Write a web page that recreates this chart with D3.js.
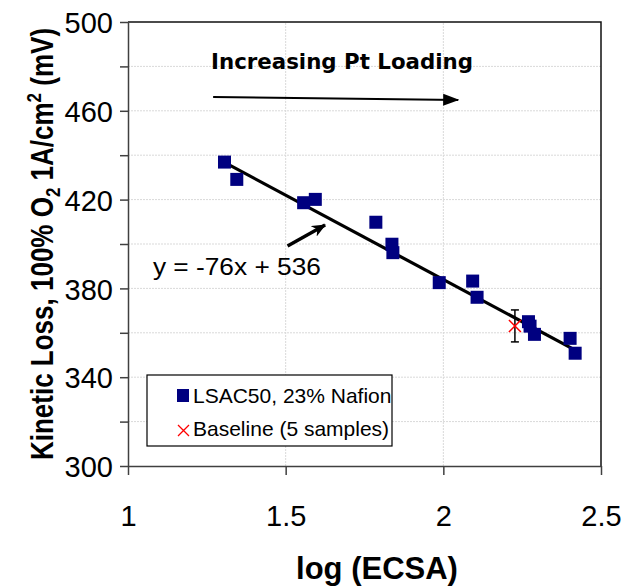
<!DOCTYPE html>
<html>
<head>
<meta charset="utf-8">
<script src="https://cdn.jsdelivr.net/npm/d3@7"></script>
<style>
  body { margin: 0; background: #fff; }
  svg text { font-family: "Liberation Sans", Arial, sans-serif; }
</style>
</head>
<body>
<div id="chart"></div>
<script>
// data
const logEcsa = [1.306, 1.345, 1.557, 1.594, 1.786, 1.837, 1.840, 1.987, 2.093, 2.107, 2.270, 2.275, 2.289, 2.402, 2.418];
const kineticLoss = [436.9, 429.1, 418.6, 420.1, 409.8, 399.9, 396.1, 382.6, 383.3, 376.0, 365.0, 363.0, 359.3, 357.5, 350.8];
const baselineX = [2.227];
const baselineY = [363.1];
const baselineErr = [7.2];
const fitSlope = -76, fitIntercept = 536;
const xTicks = [1, 1.5, 2, 2.5];
const yTicks = [300, 320, 340, 360, 380, 400, 420, 440, 460, 480, 500];
const yLabels = [300, 340, 380, 420, 460, 500];
const seriesNames = ["LSAC50, 23% Nafion", "Baseline (5 samples)"];

const width = 642, height = 586;
const margin = {top: 22, right: 41, bottom: 120, left: 128};

const svg = d3.select("#chart")
    .append("svg")
    .attr("width", width)
    .attr("height", height);

const xScale = d3.scaleLinear()
    .domain([1, 2.5])
    .range([margin.left, width - margin.right]);

const yScale = d3.scaleLinear()
    .domain([300, 500])
    .range([height - margin.bottom, margin.top]);

// gridlines
svg.append("g")
    .selectAll("line")
    .data(yTicks.slice(1, -1))
    .enter()
    .append("line")
    .attr("x1", xScale(1)).attr("x2", xScale(2.5))
    .attr("y1", d => yScale(d)).attr("y2", d => yScale(d))
    .attr("stroke", "#d9d9d9").attr("stroke-dasharray", "2,1");

svg.append("g")
    .selectAll("line")
    .data(xTicks.slice(1, -1))
    .enter()
    .append("line")
    .attr("x1", d => xScale(d)).attr("x2", d => xScale(d))
    .attr("y1", yScale(300)).attr("y2", yScale(500))
    .attr("stroke", "#d9d9d9").attr("stroke-dasharray", "2,1");

// box top + right
svg.append("path")
    .attr("d", `M${xScale(1)},${yScale(500)}H${xScale(2.5)}V${yScale(300)}`)
    .attr("fill", "none").attr("stroke", "#111").attr("stroke-width", 1.5);

// y axis
const yAxis = svg.append("g")
    .attr("transform", `translate(${margin.left},0)`)
    .call(d3.axisLeft(yScale)
        .tickValues(yTicks)
        .tickSize(8)
        .tickSizeOuter(0)
        .tickPadding(7)
        .tickFormat(d => yLabels.includes(d) ? d : ""));
yAxis.selectAll("text").attr("font-size", 29).attr("fill", "#000").attr("dy", "0.37em")
    .style("font-family", '"Liberation Sans", Arial, sans-serif');
yAxis.selectAll("line, path").attr("stroke", "#404040").attr("stroke-width", 1.5);

// x axis
const xAxis = svg.append("g")
    .attr("transform", `translate(0,${height - margin.bottom})`)
    .call(d3.axisBottom(xScale)
        .tickValues(xTicks)
        .tickSize(9)
        .tickSizeOuter(0)
        .tickPadding(30)
        .tickFormat(d => d));
xAxis.selectAll("text").attr("font-size", 29).attr("fill", "#000")
    .style("font-family", '"Liberation Sans", Arial, sans-serif');
xAxis.selectAll("line, path").attr("stroke", "#404040").attr("stroke-width", 1.5);

// axis titles
svg.append("text")
    .attr("x", 377).attr("y", 579)
    .attr("text-anchor", "middle")
    .attr("font-size", 31).attr("font-weight", "bold")
    .text("log (ECSA)");

const yTitle = svg.append("text")
    .attr("transform", `translate(53,${yScale(400)}) scale(1.22,1) rotate(-90)`)
    .attr("text-anchor", "middle")
    .attr("font-size", 26).attr("font-weight", "bold");
yTitle.append("tspan").text("Kinetic Loss, 100% O");
yTitle.append("tspan").attr("font-size", 17).attr("dy", 6).text("2");
yTitle.append("tspan").attr("dy", -6).text(" 1A/cm");
yTitle.append("tspan").attr("font-size", 17).attr("dy", -10).text("2");
yTitle.append("tspan").attr("dy", 10).text(" (mV)");

// trend line
const fitX = d3.extent(logEcsa);
svg.append("line")
    .attr("x1", xScale(fitX[0])).attr("y1", yScale(fitSlope * fitX[0] + fitIntercept))
    .attr("x2", xScale(fitX[1])).attr("y2", yScale(fitSlope * fitX[1] + fitIntercept))
    .attr("stroke", "#000").attr("stroke-width", 3.2);

// LSAC50 squares
const sq = 13;
svg.append("g")
    .selectAll("rect")
    .data(logEcsa.map((d, i) => ({x: d, y: kineticLoss[i]})))
    .enter()
    .append("rect")
    .attr("x", d => xScale(d.x) - sq / 2)
    .attr("y", d => yScale(d.y) - sq / 2)
    .attr("width", sq).attr("height", sq)
    .attr("fill", "#000080");

// baseline with error bar
const base = baselineX.map((d, i) => ({x: d, y: baselineY[i], e: baselineErr[i]}));
const bg = svg.append("g").selectAll("g").data(base).enter().append("g");
bg.append("line")
    .attr("x1", d => xScale(d.x)).attr("x2", d => xScale(d.x))
    .attr("y1", d => yScale(d.y + d.e)).attr("y2", d => yScale(d.y - d.e))
    .attr("stroke", "#000").attr("stroke-width", 1.5);
[-1, 1].forEach(s => {
    bg.append("line")
        .attr("x1", d => xScale(d.x) - 4).attr("x2", d => xScale(d.x) + 4)
        .attr("y1", d => yScale(d.y + s * d.e)).attr("y2", d => yScale(d.y + s * d.e))
        .attr("stroke", "#000").attr("stroke-width", 1.5);
});
[-1, 1].forEach(s => {
    bg.append("line")
        .attr("x1", d => xScale(d.x) - 6).attr("x2", d => xScale(d.x) + 6)
        .attr("y1", d => yScale(d.y) - 6 * s).attr("y2", d => yScale(d.y) + 6 * s)
        .attr("stroke", "#ff0000").attr("stroke-width", 1.5);
});

// legend
const legend = svg.append("g");
legend.append("rect")
    .attr("x", 147).attr("y", 375).attr("width", 245).attr("height", 71)
    .attr("fill", "#fff").attr("stroke", "#000").attr("stroke-width", 1.2);
legend.append("rect")
    .attr("x", 177).attr("y", 389).attr("width", 12).attr("height", 13)
    .attr("fill", "#000080");
legend.append("path")
    .attr("d", "M178,425L189,436M178,436L189,425")
    .attr("stroke", "#ff0000").attr("stroke-width", 1.3);
legend.selectAll("text.lg")
    .data(seriesNames)
    .enter()
    .append("text")
    .attr("class", "lg")
    .attr("x", 193)
    .attr("y", (d, i) => 403 + i * 33)
    .attr("font-size", 21)
    .text(d => d);

// annotations
svg.append("defs").html(`
  <marker id="head1" markerUnits="userSpaceOnUse" viewBox="0 0 16 12" refX="15" refY="6" markerWidth="16" markerHeight="12" orient="auto">
    <path d="M0,0L16,6L0,12Z" fill="#000"/>
  </marker>
  <marker id="head2" markerUnits="userSpaceOnUse" viewBox="0 0 14 12" refX="13" refY="6" markerWidth="14" markerHeight="12" orient="auto">
    <path d="M0,0L14,6L0,12L4,6Z" fill="#000"/>
  </marker>`);

svg.append("text")
    .attr("x", 211).attr("y", 69)
    .attr("font-size", 22).attr("font-weight", "bold")
    .attr("textLength", 262).attr("lengthAdjust", "spacingAndGlyphs")
    .style("font-family", '"DejaVu Sans", Verdana, sans-serif')
    .text("Increasing Pt Loading");

svg.append("line")
    .attr("x1", xScale(1.27)).attr("y1", yScale(466.2))
    .attr("x2", xScale(2.047)).attr("y2", yScale(464.9))
    .attr("stroke", "#000").attr("stroke-width", 2)
    .attr("marker-end", "url(#head1)");

svg.append("line")
    .attr("x1", xScale(1.506)).attr("y1", yScale(399.1))
    .attr("x2", xScale(1.625)).attr("y2", yScale(408.6))
    .attr("stroke", "#000").attr("stroke-width", 3.5)
    .attr("marker-end", "url(#head2)");

svg.append("text")
    .attr("x", xScale(1.079)).attr("y", yScale(386.0))
    .attr("font-size", 23)
    .attr("textLength", 168).attr("lengthAdjust", "spacingAndGlyphs")
    .text("y = -76x + 536");
</script>
</body>
</html>
